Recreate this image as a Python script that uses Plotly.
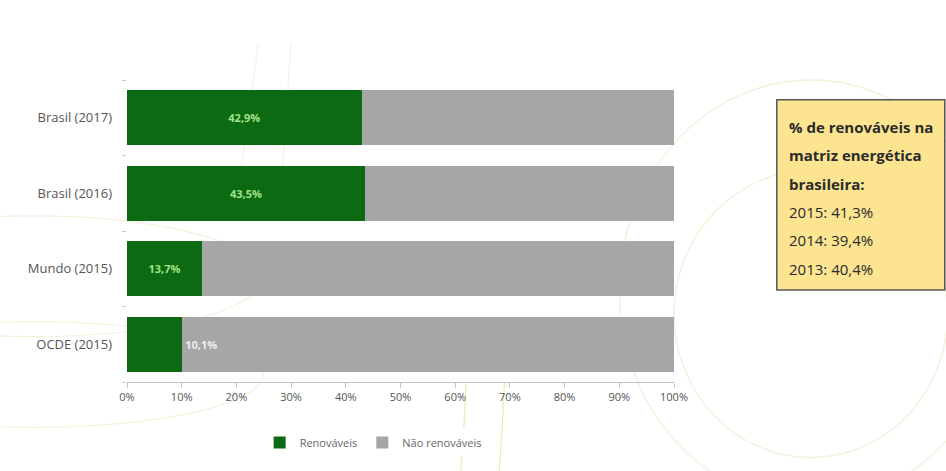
import plotly.graph_objects as go

categories = ["Brasil (2017)", "Brasil (2016)", "Mundo (2015)", "OCDE (2015)"]
renovaveis = [42.9, 43.5, 13.7, 10.1]
nao_renovaveis = [57.1, 56.5, 86.3, 89.9]
labels = ["42,9%", "43,5%", "13,7%", "10,1%"]
tick_vals = [0, 10, 20, 30, 40, 50, 60, 70, 80, 90, 100]
tick_text = ["0%", "10%", "20%", "30%", "40%", "50%", "60%", "70%", "80%", "90%", "100%"]
box_lines_bold = ["% de renováveis na", "matriz energética", "brasileira:"]
box_lines = ["2015: 41,3%", "2014: 39,4%", "2013: 40,4%"]

FONT = "Open Sans"
GREEN = "#0b6a12"
GRAY = "#a6a6a6"

inside_text = [f"<b>{t}</b>" if v > 12 else "" for t, v in zip(labels, renovaveis)]
gray_text = [f"<b>{t}</b>" if v <= 12 else "" for t, v in zip(labels, renovaveis)]

fig = go.Figure()
fig.add_trace(go.Bar(
    y=categories, x=renovaveis, orientation="h", name="Renováveis",
    marker=dict(color=GREEN, line=dict(width=0)),
    text=inside_text, textposition="inside", insidetextanchor="middle",
    textfont=dict(family=FONT, size=11, color="#a3e287"),
    hoverinfo="x+y",
))
fig.add_trace(go.Bar(
    y=categories, x=nao_renovaveis, orientation="h", name="Não renováveis",
    marker=dict(color=GRAY, line=dict(width=0)),
    text=gray_text, textposition="inside", insidetextanchor="start",
    textfont=dict(family=FONT, size=11, color="#eeeeee"),
    hoverinfo="x+y",
))

# decorative faint arcs in background
deco = "#f4f1dc"
shapes = [
    dict(type="circle", xref="paper", yref="paper", x0=0.9, x1=1.6, y0=-0.4, y1=1.0,
         line=dict(color=deco, width=1.5), layer="below"),
    dict(type="circle", xref="paper", yref="paper", x0=1.0, x1=1.5, y0=-0.25, y1=0.7,
         line=dict(color=deco, width=1.5), layer="below"),
    dict(type="circle", xref="paper", yref="paper", x0=-0.6, x1=0.25, y0=0.15, y1=0.55,
         line=dict(color=deco, width=1.2), layer="below"),
    dict(type="circle", xref="paper", yref="paper", x0=-0.6, x1=0.25, y0=-0.15, y1=0.2,
         line=dict(color=deco, width=1.2), layer="below"),
    dict(type="path", xref="x", yref="paper", path="M 24,1.12 Q 22,0.85 20,0.6",
         line=dict(color=deco, width=1.2), layer="below"),
    dict(type="path", xref="x", yref="paper", path="M 30,1.12 Q 29,0.85 28,0.6",
         line=dict(color=deco, width=1.2), layer="below"),
    dict(type="path", xref="x", yref="paper", path="M 62,0.0 Q 61.5,-0.2 61,-0.3",
         line=dict(color="#f1e6b0", width=1.2), layer="below"),
    dict(type="path", xref="x", yref="paper", path="M 69,0.0 Q 68.5,-0.2 68,-0.3",
         line=dict(color="#f1e6b0", width=1.2), layer="below"),
    # info box
    dict(type="rect", xref="paper", yref="paper", x0=1.188, x1=1.495, y0=0.305, y1=0.935,
         fillcolor="#fde491", line=dict(color="#555555", width=1.5), layer="above"),
]

annotations = []
y_start = 0.845
step = 0.094
for i, t in enumerate(box_lines_bold + box_lines):
    bold = i < len(box_lines_bold)
    annotations.append(dict(
        xref="paper", yref="paper", x=1.206, y=y_start - i * step,
        text=(f"<b>{t}</b>" if bold else t), showarrow=False,
        xanchor="left", yanchor="middle",
        font=dict(family=FONT, size=15, color="#2a2a2a"),
    ))

fig.update_layout(
    width=946, height=471,
    margin=dict(l=127, r=272, t=80, b=89),
    barmode="stack", bargap=0.27,
    plot_bgcolor="rgba(0,0,0,0)", paper_bgcolor="white",
    font=dict(family=FONT, color="#555555"),
    xaxis=dict(range=[0, 100], tickvals=tick_vals, ticktext=tick_text,
               showgrid=False, zeroline=False, showline=True, linecolor="#c4c4c4",
               ticks="outside", ticklen=5, tickcolor="#c4c4c4",
               tickfont=dict(family=FONT, size=11, color="#555555")),
    yaxis=dict(categoryorder="array", categoryarray=categories[::-1],
               showgrid=False, zeroline=False, showline=False,
               ticks="outside", ticklen=4, tickcolor="#cccccc", tickson="boundaries",
               ticklabelstandoff=14,
               tickfont=dict(family=FONT, size=13, color="#555555")),
    legend=dict(orientation="h", x=0.45, xanchor="center", y=-0.2, yanchor="middle",
                font=dict(family=FONT, size=11, color="#666666"),
                itemwidth=30, traceorder="normal"),
    shapes=shapes, annotations=annotations,
    uniformtext=dict(mode="show", minsize=8),
)

fig.write_html("out.html")
